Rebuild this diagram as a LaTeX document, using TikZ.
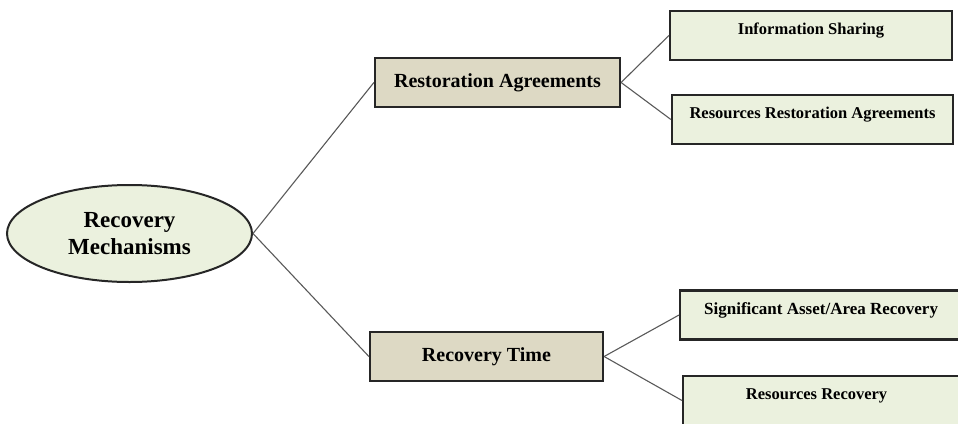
\documentclass[tikz,border=0pt]{standalone}
\usepackage{fontspec}
\setmainfont{Liberation Serif}
\usetikzlibrary{shapes.geometric}
\definecolor{leafgreen}{HTML}{EBF1DE}
\definecolor{midtan}{HTML}{DDD9C4}
\definecolor{edgedark}{HTML}{262626}
\definecolor{linkgray}{HTML}{595959}
\tikzset{
  rootnode/.style={ellipse, draw=edgedark, line width=2pt, fill=leafgreen,
    minimum width=245pt, minimum height=97pt, inner sep=0pt, align=center,
    font=\fontsize{23}{27}\selectfont\bfseries},
  midbox/.style={rectangle, draw=edgedark, line width=2.2pt, fill=midtan,
    minimum height=49pt, inner sep=0pt, font=\fontsize{20}{24}\selectfont\bfseries},
  leafbox/.style={rectangle, draw=edgedark, line width=2.2pt, fill=leafgreen,
    minimum height=49pt, inner sep=0pt, text height=12pt, text depth=14pt,
    font=\fontsize{16.5}{20}\selectfont\bfseries},
  link/.style={draw=linkgray, line width=1.1pt}
}
\begin{document}
\begin{tikzpicture}[x=1pt,y=-1pt]
\useasboundingbox (0,0) rectangle (958,423);
\node[rootnode] (root) at (129.5,233.5) {Recovery\\Mechanisms};
\node[midbox, minimum width=245pt] (ra) at (497.5,82.5) {\raisebox{2pt}{Restoration Agreements}};
\node[midbox, minimum width=233pt] (rt) at (486.5,356.5) {\raisebox{2pt}{Recovery Time}};
\node[leafbox, minimum width=282pt] (is) at (811,35.5) {Information Sharing};
\node[leafbox, minimum width=281pt] (rra) at (812.5,119.5) {Resources Restoration Agreements};
\node[leafbox, minimum width=282pt, anchor=west] (sar) at (679,315) {\fontsize{17}{20}\selectfont Significant Asset/Area Recovery};
\node[leafbox, minimum width=282pt, anchor=west] (rr) at (682,400.5) {\hspace*{-15pt}Resources Recovery};
\draw[link] (root.east) -- (ra.west);
\draw[link] (root.east) -- (rt.west);
\draw[link] (ra.east) -- (is.west);
\draw[link] (ra.east) -- (rra.west);
\draw[link] (rt.east) -- (sar.west);
\draw[link] (rt.east) -- (rr.west);
\end{tikzpicture}
\end{document}
